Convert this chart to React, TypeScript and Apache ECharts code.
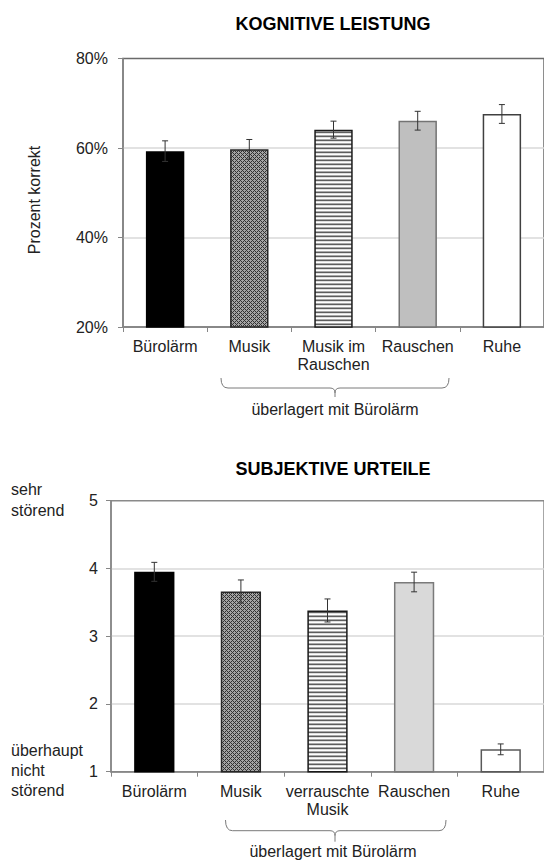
import React, { useEffect, useRef } from 'react';
import * as echarts from 'echarts';

// ---- Data: top chart (Kognitive Leistung) ----
const categoriesTop = ['Bürolärm', 'Musik', 'Musik im\nRauschen', 'Rauschen', 'Ruhe'];
const valuesTop = [59.3, 59.7, 64.1, 66.1, 67.6];
const errorsTop = [2.3, 2.2, 1.9, 2.1, 2.1];
const yMinTop = 20;
const yMaxTop = 80;
const yStepTop = 20;

// ---- Data: bottom chart (Subjektive Urteile) ----
const categoriesBottom = ['Bürolärm', 'Musik', 'verrauschte\nMusik', 'Rauschen', 'Ruhe'];
const valuesBottom = [3.95, 3.66, 3.38, 3.8, 1.33];
const errorsBottom = [0.14, 0.17, 0.17, 0.145, 0.08];
const yMinBottom = 1;
const yMaxBottom = 5;
const yStepBottom = 1;

const titleTop = 'KOGNITIVE LEISTUNG';
const titleBottom = 'SUBJEKTIVE URTEILE';
const yNameTop = 'Prozent korrekt';
const scaleHigh = 'sehr\nstörend';
const scaleLow = 'überhaupt\nnicht\nstörend';
const braceText = 'überlagert mit Bürolärm';

const FONT = '"Liberation Sans", Arial, Helvetica, sans-serif';

function makeHatch(): HTMLCanvasElement {
  const c = document.createElement('canvas');
  c.width = 4;
  c.height = 4;
  const ctx = c.getContext('2d')!;
  ctx.fillStyle = '#a4a4a4';
  ctx.fillRect(0, 0, 4, 4);
  ctx.fillStyle = '#333333';
  for (let y = 0; y < 4; y++) {
    for (let x = 0; x < 4; x++) {
      if ((x + y) % 4 === 0 || ((x - y + 8) % 4) === 0) ctx.fillRect(x, y, 1, 1);
    }
  }
  return c;
}

function makeStripes(): HTMLCanvasElement {
  const c = document.createElement('canvas');
  c.width = 4;
  c.height = 4;
  const ctx = c.getContext('2d')!;
  const rows = ['#5e5e5e', '#e0e0e0', '#ffffff', '#aaaaaa'];
  rows.forEach((col, i) => {
    ctx.fillStyle = col;
    ctx.fillRect(0, i, 4, 1);
  });
  return c;
}

function braceElements(x1: number, x2: number, yTop: number, yMid: number, tipX: number, yTip: number) {
  const st = { stroke: '#7a7a7a', lineWidth: 1 };
  const r = 7;
  const t = 5;
  return [
    { type: 'bezierCurve', shape: { x1: x1, y1: yTop, cpx1: x1, cpy1: yMid, x2: x1 + r, y2: yMid }, style: st },
    { type: 'line', shape: { x1: x1 + r, y1: yMid, x2: tipX - t, y2: yMid }, style: st },
    { type: 'bezierCurve', shape: { x1: tipX - t, y1: yMid, cpx1: tipX, cpy1: yMid, x2: tipX, y2: yMid + t }, style: st },
    { type: 'bezierCurve', shape: { x1: tipX + t, y1: yMid, cpx1: tipX, cpy1: yMid, x2: tipX, y2: yMid + t }, style: st },
    { type: 'line', shape: { x1: tipX, y1: yMid + t, x2: tipX, y2: yTip }, style: st },
    { type: 'line', shape: { x1: tipX + t, y1: yMid, x2: x2 - r, y2: yMid }, style: st },
    { type: 'bezierCurve', shape: { x1: x2 - r, y1: yMid, cpx1: x2, cpy1: yMid, x2: x2, y2: yTop }, style: st },
  ];
}

function errorRender(params: any, api: any) {
  const x = api.value(0);
  const lo = api.value(1);
  const hi = api.value(2);
  const pHi = api.coord([x, hi]);
  const pLo = api.coord([x, lo]);
  const cap = 3;
  const style = { stroke: '#333333', lineWidth: 1 };
  return {
    type: 'group',
    children: [
      { type: 'line', shape: { x1: pHi[0], y1: pHi[1], x2: pLo[0], y2: pLo[1] }, style },
      { type: 'line', shape: { x1: pHi[0] - cap, y1: pHi[1], x2: pHi[0] + cap, y2: pHi[1] }, style },
      { type: 'line', shape: { x1: pLo[0] - cap, y1: pLo[1], x2: pLo[0] + cap, y2: pLo[1] }, style },
    ],
  };
}

export default function App() {
  const ref = useRef<HTMLDivElement>(null);

  useEffect(() => {
    if (!ref.current) return;
    const chart = echarts.init(ref.current, null, { renderer: 'svg' });
    const hatch = { image: makeHatch(), repeat: 'repeat' };
    const stripes = { image: makeStripes(), repeat: 'repeat' };

    const stylesTop = [
      { color: '#000000', borderColor: '#000000', borderWidth: 1.5 },
      { color: hatch, borderColor: '#262626', borderWidth: 1.5 },
      { color: stripes, borderColor: '#1a1a1a', borderWidth: 1.5 },
      { color: '#bfbfbf', borderColor: '#737373', borderWidth: 1.5 },
      { color: '#ffffff', borderColor: '#404040', borderWidth: 1.5 },
    ];
    const stylesBottom = [
      { color: '#000000', borderColor: '#000000', borderWidth: 1.5 },
      { color: hatch, borderColor: '#262626', borderWidth: 1.5 },
      { color: stripes, borderColor: '#1a1a1a', borderWidth: 1.5 },
      { color: '#d9d9d9', borderColor: '#7a7a7a', borderWidth: 1.5 },
      { color: '#ffffff', borderColor: '#595959', borderWidth: 1.5 },
    ];

    const axisGray = '#868686';
    const labelColor = '#222222';

    const xAxisCommon = (gridIndex: number, data: string[], margin: number) => ({
      type: 'category',
      gridIndex,
      data,
      axisLine: { show: true, lineStyle: { color: axisGray, width: 1.5 } },
      axisTick: { show: true, length: 5, lineStyle: { color: axisGray, width: 1 } },
      axisLabel: {
        interval: 0,
        fontSize: 16,
        fontFamily: FONT,
        color: labelColor,
        lineHeight: 18,
        margin,
      },
      splitLine: { show: false },
    });

    const yAxisCommon = (gridIndex: number, min: number, max: number, interval: number, fmt: string, margin: number) => ({
      type: 'value',
      gridIndex,
      min,
      max,
      interval,
      axisLine: { show: true, lineStyle: { color: axisGray, width: 1.5 } },
      axisTick: { show: true, length: 5, lineStyle: { color: axisGray, width: 1 } },
      axisLabel: { formatter: fmt, fontSize: 16, fontFamily: FONT, color: labelColor, margin },
      splitLine: {
        show: true,
        showMinLine: false,
        showMaxLine: false,
        lineStyle: { color: '#d9d9d9', width: 1.5 },
      },
    });

    const textEl = (text: string, x: number, y: number, opts: any = {}) => ({
      type: 'text',
      x,
      y,
      rotation: opts.rotation || 0,
      style: {
        text,
        font: opts.font || `16px ${FONT}`,
        fill: opts.fill || '#222222',
        textAlign: opts.align || 'center',
        textVerticalAlign: 'middle',
        lineHeight: opts.lineHeight || 20,
      },
    });

    const option: any = {
      animation: false,
      backgroundColor: '#ffffff',
      textStyle: { fontFamily: FONT },
      grid: [
        { left: 123, top: 58.5, width: 425, height: 268.5, show: true, borderColor: '#6a6a6a', borderWidth: 1.5, backgroundColor: 'transparent' },
        { left: 111, top: 500.7, width: 436.5, height: 271, show: true, borderColor: '#8a8a8a', borderWidth: 1.5, backgroundColor: 'transparent' },
      ],
      xAxis: [xAxisCommon(0, categoriesTop, 10), xAxisCommon(1, categoriesBottom, 11)],
      yAxis: [
        yAxisCommon(0, yMinTop, yMaxTop, yStepTop, '{value}%', 15),
        yAxisCommon(1, yMinBottom, yMaxBottom, yStepBottom, '{value}', 13),
      ],
      series: [
        {
          type: 'bar',
          xAxisIndex: 0,
          yAxisIndex: 0,
          barWidth: '45.6%',
          data: valuesTop.map((v, i) => ({ value: v, itemStyle: stylesTop[i] })),
        },
        {
          type: 'custom',
          xAxisIndex: 0,
          yAxisIndex: 0,
          renderItem: errorRender,
          encode: { x: 0, y: [1, 2] },
          clip: false,
          z: 10,
          data: valuesTop.map((v, i) => [i, v - errorsTop[i], v + errorsTop[i]]),
        },
        {
          type: 'bar',
          xAxisIndex: 1,
          yAxisIndex: 1,
          barWidth: '46.5%',
          data: valuesBottom.map((v, i) => ({ value: v, itemStyle: stylesBottom[i] })),
        },
        {
          type: 'custom',
          xAxisIndex: 1,
          yAxisIndex: 1,
          renderItem: errorRender,
          encode: { x: 0, y: [1, 2] },
          clip: false,
          z: 10,
          data: valuesBottom.map((v, i) => [i, v - errorsBottom[i], v + errorsBottom[i]]),
        },
      ],
      graphic: [
        textEl(titleTop, 333, 24, { font: `bold 18px ${FONT}`, fill: '#000000' }),
        textEl(titleBottom, 333, 469, { font: `bold 18px ${FONT}`, fill: '#000000' }),
        textEl(yNameTop, 34.5, 200, { rotation: Math.PI / 2 }),
        textEl(scaleHigh, 11, 499.5, { align: 'left', lineHeight: 21 }),
        textEl(scaleLow, 11, 770, { align: 'left', lineHeight: 20 }),
        ...braceElements(221, 449, 378, 388, 335, 397),
        textEl(braceText, 335, 409),
        ...braceElements(225.5, 446, 820, 830.7, 335, 841.7),
        textEl(braceText, 333, 851.5),
      ],
    };

    chart.setOption(option);
    return () => chart.dispose();
  }, []);

  return (
    <div
      ref={ref}
      style={{ position: 'absolute', left: 0, top: 0, width: 544, height: 861 }}
    />
  );
}
